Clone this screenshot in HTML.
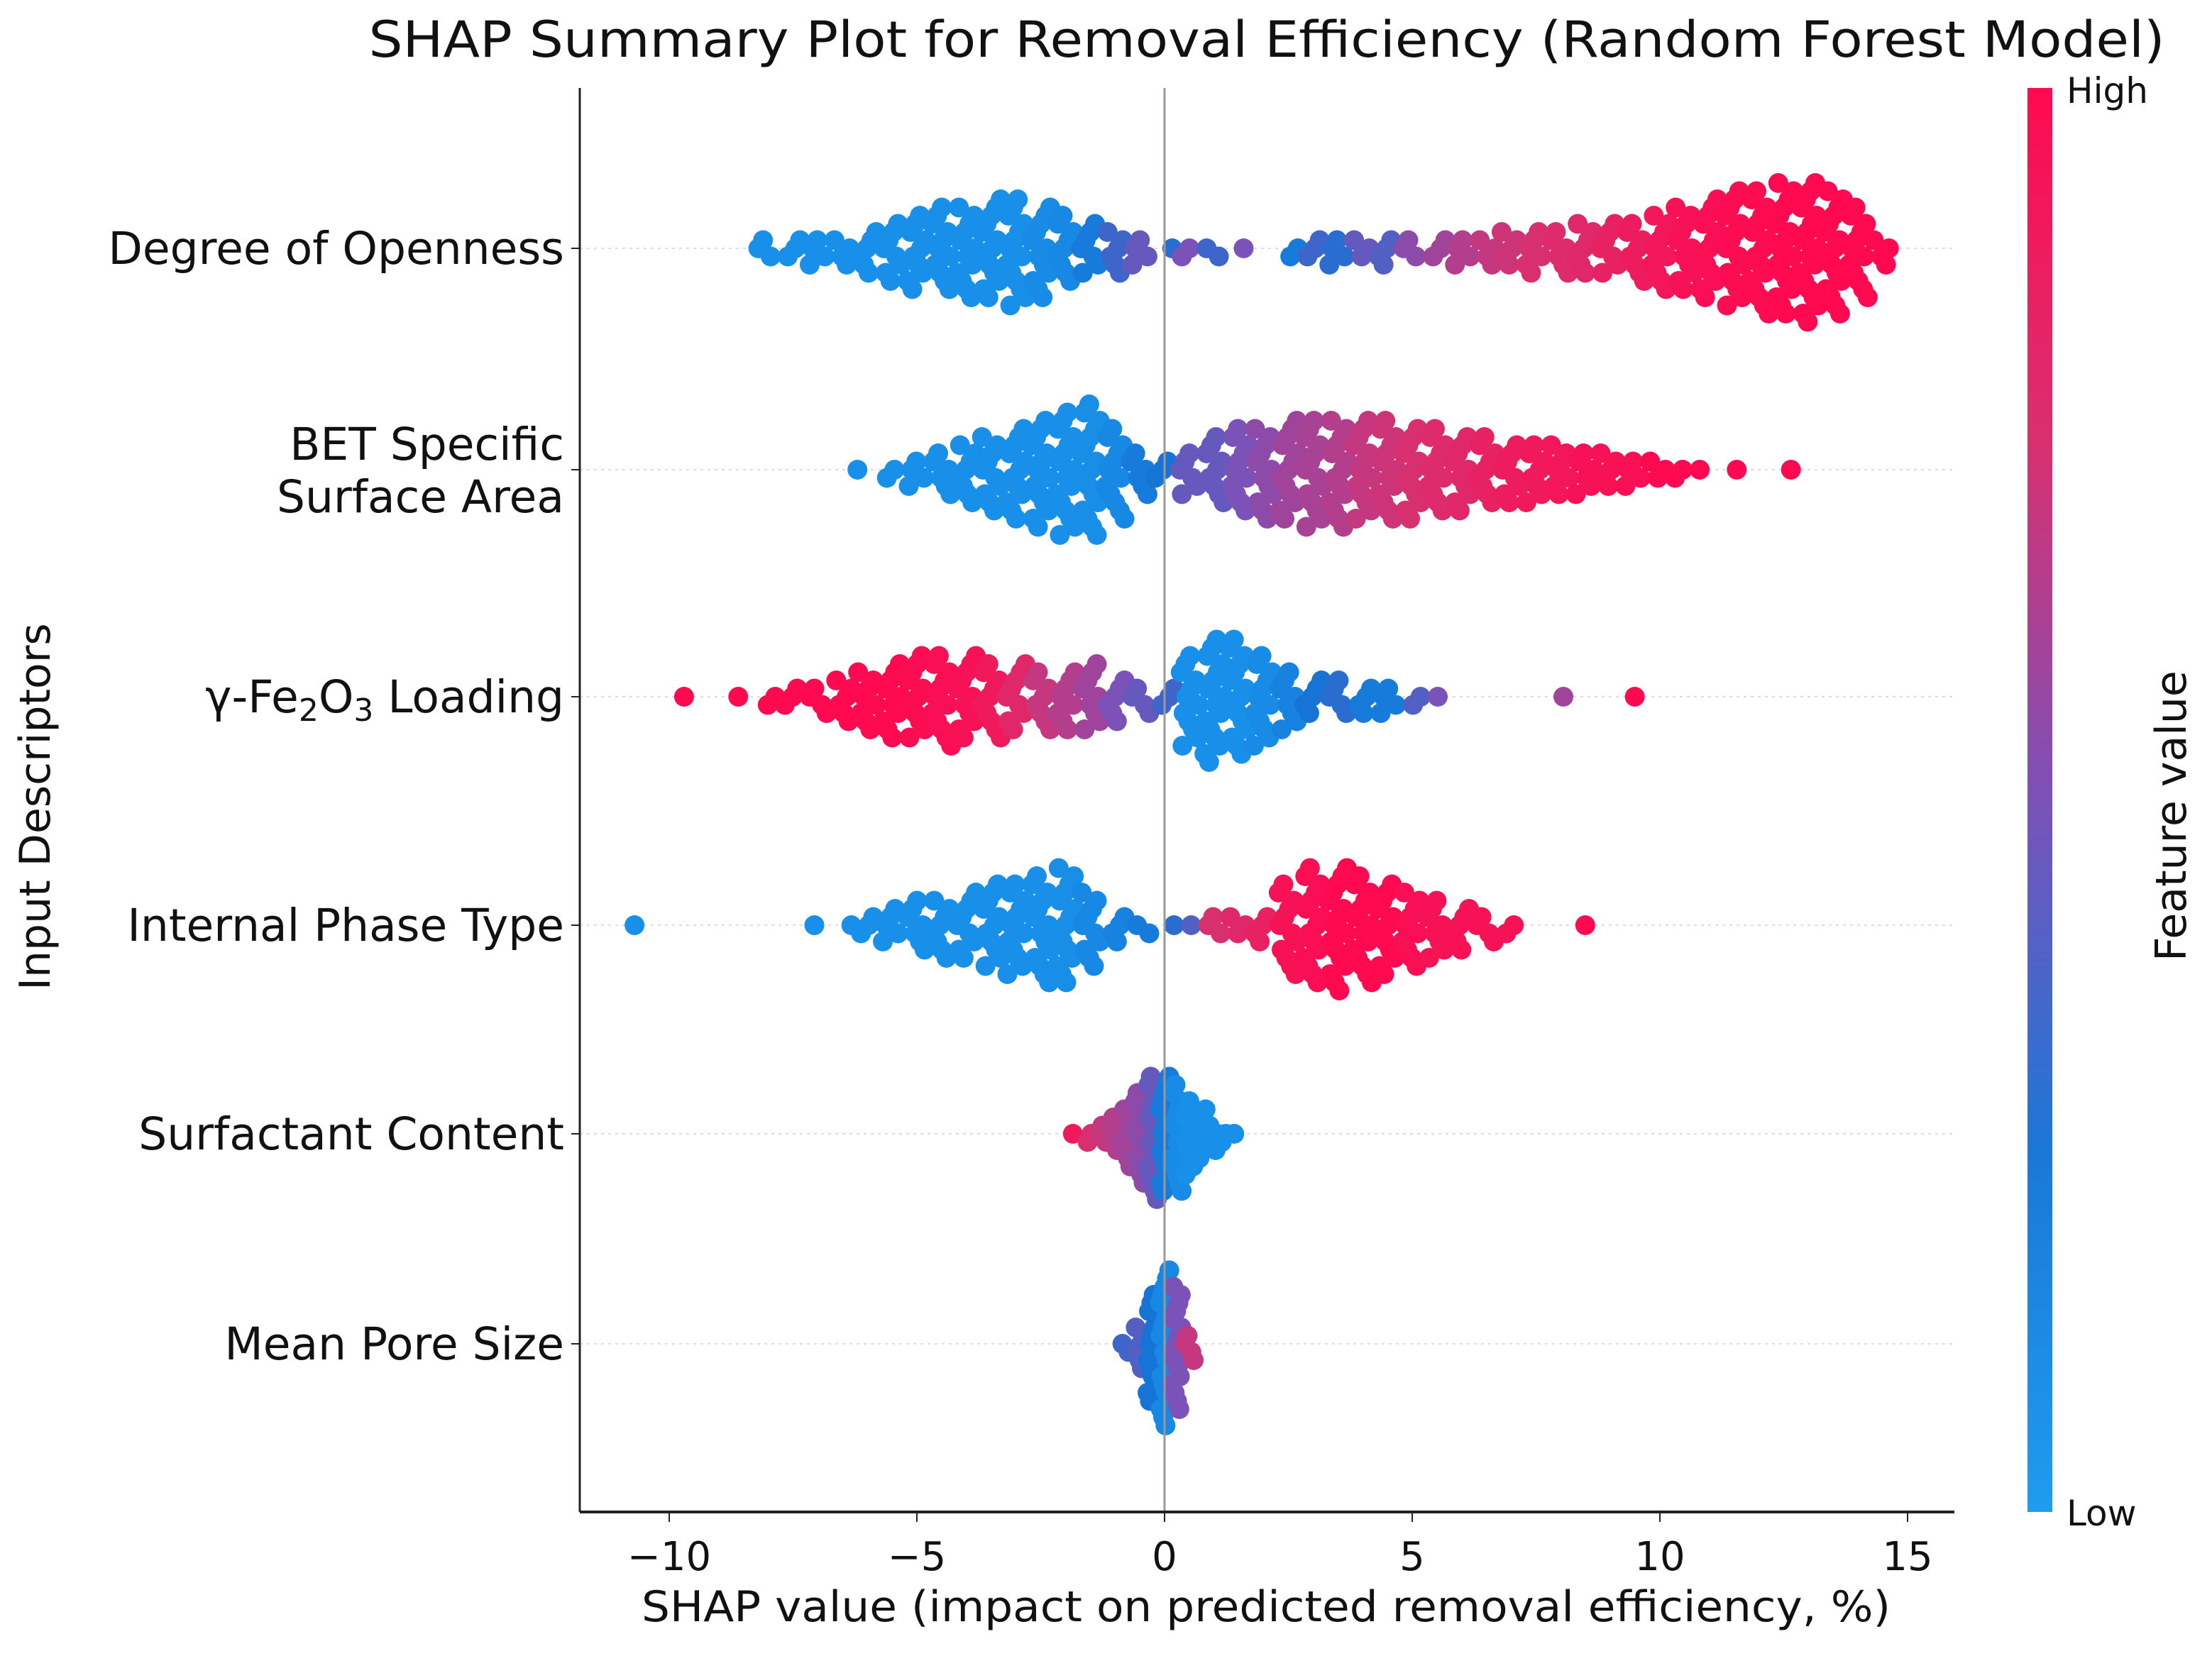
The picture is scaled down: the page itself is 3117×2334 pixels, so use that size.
<!DOCTYPE html>
<html><head><meta charset="utf-8">
<style>html,body{margin:0;padding:0;background:#fff}svg{display:block}text{font-family:"DejaVu Sans","Liberation Sans",sans-serif;fill:#111}</style>
</head><body>
<svg id="chart" width="3117" height="2334" viewBox="0 0 3117 2334" xmlns="http://www.w3.org/2000/svg">
<defs><linearGradient id="cbg" x1="0" y1="1" x2="0" y2="0">
<stop offset="0" stop-color="#1e9cee"/><stop offset="0.25" stop-color="#1a78d8"/><stop offset="0.5" stop-color="#7a52b8"/><stop offset="0.75" stop-color="#d8306f"/><stop offset="1" stop-color="#ff0a50"/></linearGradient></defs>
<text x="1785" y="80" font-size="70" text-anchor="middle" textLength="2531" lengthAdjust="spacingAndGlyphs">SHAP Summary Plot for Removal Efficiency (Random Forest Model)</text>
<g id="grid"></g><g id="dots"></g><g id="axes"></g>
<rect x="2857" y="124" width="35" height="2007" fill="url(#cbg)"/>
<text x="2912" y="145" font-size="50">High</text>
<text x="2912" y="2150" font-size="50">Low</text>
<text transform="translate(3080,1150) rotate(-90)" font-size="60" text-anchor="middle">Feature value</text>
<text transform="translate(70,1137) rotate(-90)" font-size="60" text-anchor="middle">Input Descriptors</text>
<text x="1784" y="2285" font-size="60" text-anchor="middle" textLength="1760" lengthAdjust="spacingAndGlyphs">SHAP value (impact on predicted removal efficiency, %)</text>
</svg>
<script>
const features = ["Degree of Openness","BET Specific|Surface Area","γ-Fe2O3 Loading","Internal Phase Type","Surfactant Content","Mean Pore Size"];
const xTicks = [-10,-5,0,5,10,15];
const binStart = [-8,-6,-9.5,-10.5,-1.75,-0.75];
const binStep = [0.5,0.5,0.5,0.5,0.25,0.25];
const counts0 = [3,3,4,4,6,8,10,11,12,13,14,12,9,7,6,4,1,2,2,1,0,2,3,4,3,4,3,3,4,4,5,6,6,7,7,8,10,11,13,15,16,17,18,16,12,4];
const colors0 = [0.05,0.05,0.05,0.05,0.05,0.05,0.05,0.05,0.05,0.05,0.05,0.08,0.1,0.2,0.35,0.45,0.3,0.5,0.35,0.5,0.5,0.2,0.35,0.3,0.45,0.4,0.55,0.6,0.65,0.7,0.72,0.75,0.78,0.8,0.85,0.88,0.92,0.95,0.97,0.98,0.99,1,1,1,1,1];
const counts1 = [1,2,4,6,8,10,12,14,16,17,12,6,3,6,9,11,12,13,14,14,13,13,12,11,10,9,8,8,7,6,5,4,3,2,1,1,0,1];
const colors1 = [0.05,0.05,0.05,0.05,0.05,0.05,0.05,0.05,0.05,0.06,0.1,0.2,0.25,0.45,0.45,0.5,0.55,0.6,0.62,0.65,0.7,0.72,0.75,0.78,0.8,0.85,0.88,0.9,0.92,0.95,0.95,0.97,1,1,1,1,1,1];
const counts2 = [1,0,1,2,3,4,6,8,10,11,12,11,10,9,8,8,9,6,4,3,12,16,15,12,8,5,5,4,4,2,1,0,0,0,0,1,0,0,1];
const colors2 = [1,1,1,1,1,1,1,1,1,0.98,0.97,0.95,0.9,0.8,0.7,0.65,0.6,0.5,0.45,0.35,0.05,0.05,0.05,0.08,0.15,0.25,0.3,0.2,0.2,0.4,0.5,0.5,0.5,0.5,0.5,0.6,0.6,0.6,1];
const counts3 = [1,0,0,0,0,0,0,1,1,3,5,7,8,9,11,12,14,15,10,4,2,1,1,3,3,4,12,15,16,14,12,10,8,6,4,2,0,0,1];
const colors3 = [0.05,0,0,0,0,0,0,0.05,0.05,0.05,0.05,0.05,0.05,0.05,0.05,0.05,0.05,0.06,0.1,0.15,0.2,0.3,0.4,0.75,0.8,0.85,0.95,0.97,1,1,1,0.97,0.95,0.95,0.95,0.95,1,1,1];
const counts4 = [1,2,3,5,8,12,16,15,14,10,7,4,2,1];
const colors4 = [0.9,0.75,0.7,0.65,0.6,0.55,0.45,0.2,0.08,0.05,0.05,0.05,0.05,0.05];
const counts5 = [2,6,14,20,16,4];
const colors5 = [0.35,0.4,0.25,0.1,0.5,0.7];
const allCounts=[counts0,counts1,counts2,counts3,counts4,counts5];
const allColors=[colors0,colors1,colors2,colors3,colors4,colors5];

const NS="http://www.w3.org/2000/svg";
const X0=817, X1=2754, Y0=124, Y1=2131;
const rowY=[350,662,982,1304,1598,1894];
function xs(v){return 1641+v*69.8;}
function mk(tag,attrs,parent){const e=document.createElementNS(NS,tag);for(const k in attrs)e.setAttribute(k,attrs[k]);parent.appendChild(e);return e;}
function col(t){
  const stops=[[0,[24,150,236]],[0.25,[22,116,214]],[0.5,[122,82,184]],[0.75,[216,48,111]],[1,[255,10,80]]];
  for(let i=1;i<stops.length;i++){if(t<=stops[i][0]){const a=stops[i-1],b=stops[i];const f=(t-a[0])/(b[0]-a[0]);
    const c=a[1].map((v,j)=>Math.round(v+(b[1][j]-v)*f));return `rgb(${c[0]},${c[1]},${c[2]})`;}}
  return "rgb(255,10,80)";
}
const grid=document.getElementById('grid'),dots=document.getElementById('dots'),axes=document.getElementById('axes');
features.forEach((f,r)=>{
  const gl=mk('line',{x1:X0,x2:X1,y1:rowY[r],y2:rowY[r],stroke:'#ddd','stroke-width':2,'stroke-dasharray':'4,6'},grid);
  
  
  const parts=f.split('|');
  const t=mk('text',{x:795,'font-size':63,'text-anchor':'end'},axes);
  
  
  if(parts.length===2){
    const a=mk('tspan',{x:795},t);a.textContent=parts[0];
    const b=mk('tspan',{x:795,dy:74},t);b.textContent=parts[1];
    t.setAttribute('y',rowY[r]-14);
  } else if(f.indexOf('Fe2O3')>=0){
    t.setAttribute('y',rowY[r]+22);
    const a=mk('tspan',{},t);a.textContent='γ-Fe';
    const b=mk('tspan',{'font-size':44,dy:12},t);b.textContent='2';
    const c=mk('tspan',{dy:-12},t);c.textContent='O';
    const d=mk('tspan',{'font-size':44,dy:12},t);d.textContent='3';
    const e=mk('tspan',{dy:-12},t);e.textContent=' Loading';
  } else {t.setAttribute('y',rowY[r]+22);t.textContent=f;}
  const tk=mk('line',{x1:X0-12,x2:X0,y1:rowY[r],y2:rowY[r],stroke:'#222','stroke-width':2},axes);
  
  
  const cs=allCounts[r],cl=allColors[r],st=binStep[r],s0=binStart[r];
  const bw=st*69.8;
  cs.forEach((n,b)=>{
    const v=s0+b*st;
    for(let i=0;i<n;i++){
      const k=Math.ceil(i/2)*(i%2?1:-1);
      const off=(((i+b)*0.618)%1-0.5)*bw*0.8;
      const c=mk('circle',{cx:xs(v)+off,cy:rowY[r]+k*11.5,r:14,fill:col(cl[b])},dots);
      
      
    }
  });
});
const zl=mk('line',{x1:1641,x2:1641,y1:Y0,y2:Y1,stroke:'#999','stroke-width':3},axes);


const ys=mk('line',{x1:X0,x2:X0,y1:Y0,y2:Y1,stroke:'#222','stroke-width':3},axes);


const xa=mk('line',{x1:X0,x2:X1,y1:Y1,y2:Y1,stroke:'#222','stroke-width':4},axes);


xTicks.forEach(v=>{
  const l=mk('line',{x1:xs(v),x2:xs(v),y1:Y1,y2:Y1+14,stroke:'#222','stroke-width':2},axes);
  
  
  const t=mk('text',{x:xs(v),y:Y1+82,'font-size':56,'text-anchor':'middle'},axes);
  
  
  t.textContent=v<0?'\u2212'+Math.abs(v):String(v);
});
</script>
</body></html>
